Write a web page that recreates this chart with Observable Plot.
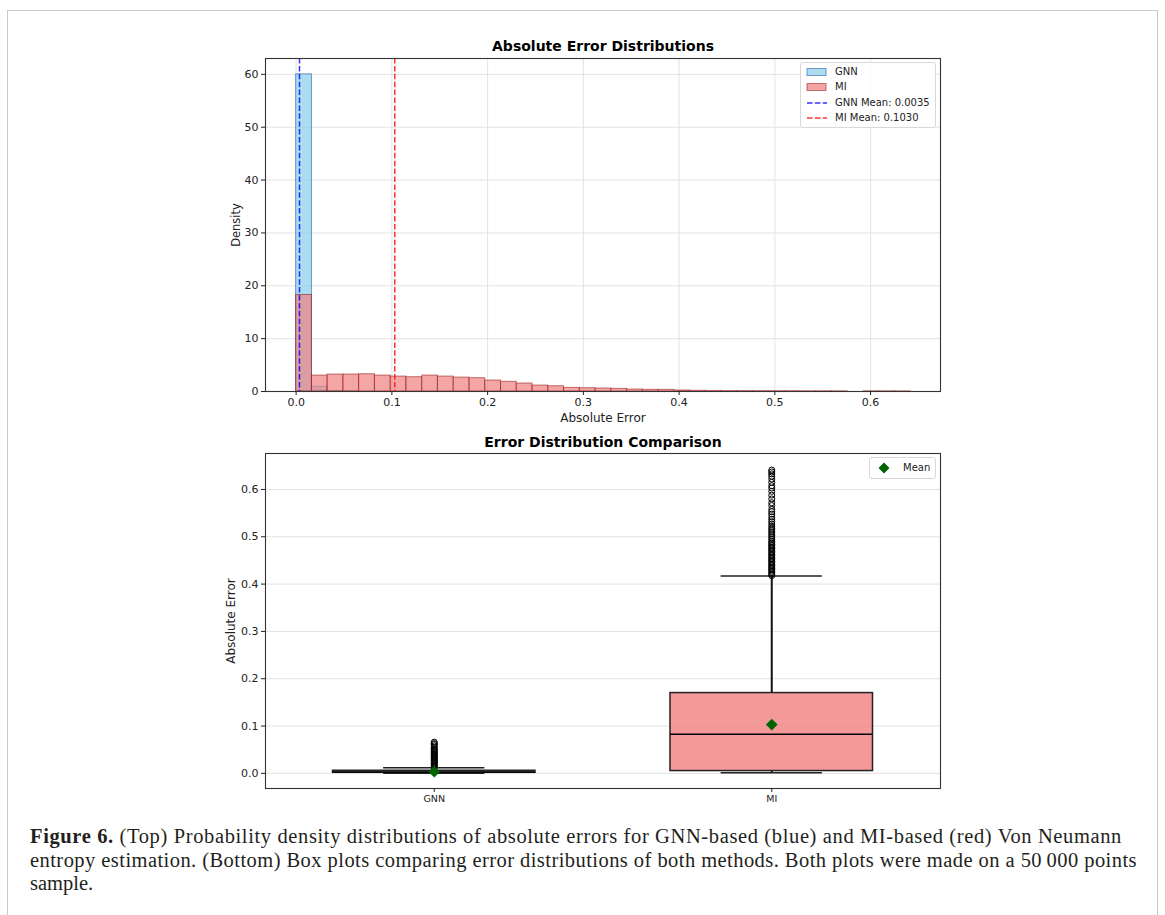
<!DOCTYPE html>
<html><head><meta charset="utf-8">
<script src="https://cdn.jsdelivr.net/npm/d3@7"></script>
<script src="https://cdn.jsdelivr.net/npm/@observablehq/plot@0.6"></script>
<style>
html,body{margin:0;padding:0;background:#fff;width:1165px;height:915px;overflow:hidden;position:relative;}
#border{position:absolute;left:7px;top:10px;width:1149px;height:1000px;border:1.5px solid #cacaca;border-bottom:none;}
#topplot,#bottomplot{position:absolute;left:0;}
#topplot{top:0;}
#bottomplot{top:430px;}
.legend{position:absolute;background:rgba(255,255,255,0.85);border:1px solid #d8d8d8;border-radius:3px;font-family:"DejaVu Sans";font-size:10px;color:#222;box-sizing:border-box;}
.legend .row{position:absolute;left:0;height:14px;line-height:14px;white-space:nowrap;}
.legend svg{position:absolute;}
.legend .lab{position:absolute;}
#caption{position:absolute;left:30px;top:825px;font-family:"Liberation Serif",serif;font-size:20.5px;line-height:23.5px;color:#231f20;white-space:nowrap;}
#caption .line{display:block;}
#caption .line span.t{display:inline-block;}
</style></head>
<body>
<div id="border"></div>
<div id="topplot"></div>
<div id="bottomplot"></div>
<div id="legend1" class="legend" style="left:800px;top:62px;width:136px;height:66px;"></div>
<div id="legend2" class="legend" style="left:869px;top:457px;width:67px;height:22px;"></div>
<div id="caption">
<div class="line"><span class="t" data-target="1092"><b>Figure 6.</b> (Top) Probability density distributions of absolute errors for GNN-based (blue) and MI-based (red) Von Neumann</span></div>
<div class="line"><span class="t" data-target="1107">entropy estimation. (Bottom) Box plots comparing error distributions of both methods. Both plots were made on a 50&#8201;000 points</span></div>
<div class="line"><span class="t">sample.</span></div>
</div>
<script>
// ---- Histogram data (shared bin edges, density) ----
const binEdges = [0, 0.0165, 0.0329, 0.0494, 0.0658, 0.0823, 0.0988, 0.1152, 0.1317, 0.1481,
  0.1646, 0.1811, 0.1975, 0.2140, 0.2304, 0.2469, 0.2634, 0.2798, 0.2963, 0.3127,
  0.3292, 0.3457, 0.3621, 0.3786, 0.3950, 0.4115, 0.4280, 0.4444, 0.4609, 0.4773,
  0.4938, 0.5103, 0.5267, 0.5432, 0.5596, 0.5761, 0.5926, 0.6090, 0.6255, 0.6419];
const gnnDensity = [60.0, 0.9, 0.1, 0.02];
const miDensity = [18.26, 3.02, 3.21, 3.21, 3.27, 3.02, 2.83, 2.71, 3.02, 2.83,
  2.64, 2.52, 2.08, 1.83, 1.51, 1.13, 1.0, 0.69, 0.63, 0.57,
  0.50, 0.38, 0.31, 0.31, 0.19, 0.13, 0.11, 0.09, 0.08, 0.07,
  0.06, 0.06, 0.05, 0.05, 0.04, 0, 0.04, 0.04, 0.03];
const gnnMean = 0.0035;
const miMean = 0.1030;
const histXTicks = [0, 0.1, 0.2, 0.3, 0.4, 0.5, 0.6];
const histYTicks = [0, 10, 20, 30, 40, 50, 60];

// ---- Box plot data ----
const methods = ["GNN", "MI"];
const boxQ1 = [0.0012, 0.0049];
const boxMedian = [0.0028, 0.0824];
const boxQ3 = [0.0055, 0.1697];
const whiskerLow = [0.0, 0.0015];
const whiskerHigh = [0.0118, 0.417];
const boxMean = [0.0035, 0.1030];
const boxFill = ["skyblue", "lightcoral"];
const gnnOutliers = [0.012, 0.014, 0.016, 0.018, 0.020, 0.022, 0.024, 0.026, 0.028, 0.030,
  0.032, 0.034, 0.036, 0.038, 0.040, 0.042, 0.044, 0.046, 0.048, 0.050, 0.052, 0.055,
  0.058, 0.061, 0.063, 0.066];
const miOutliers = [0.418, 0.421, 0.424, 0.427, 0.430, 0.433, 0.436, 0.439, 0.442, 0.445,
  0.448, 0.451, 0.454, 0.457, 0.460, 0.463, 0.466, 0.469, 0.472, 0.475, 0.478, 0.481,
  0.484, 0.487, 0.490, 0.494, 0.498, 0.502, 0.506, 0.510, 0.514, 0.518, 0.522, 0.527,
  0.532, 0.537, 0.542, 0.548, 0.553, 0.558, 0.566, 0.572, 0.580, 0.588, 0.596, 0.603,
  0.608, 0.615, 0.622, 0.628, 0.633, 0.637, 0.641];
const boxYTicks = [0, 0.1, 0.2, 0.3, 0.4, 0.5, 0.6];

// ---- Build tables ----
const gnnBars = gnnDensity.map((d, i) => ({x1: binEdges[i], x2: binEdges[i + 1], y: d}));
const miBars = miDensity.map((d, i) => ({x1: binEdges[i], x2: binEdges[i + 1], y: d})).filter(d => d.y > 0);
const boxes = methods.map((m, i) => ({
  name: m, pos: i + 1, q1: boxQ1[i], med: boxMedian[i], q3: boxQ3[i],
  lo: whiskerLow[i], hi: whiskerHigh[i], mean: boxMean[i], fill: boxFill[i]
}));
const outliers = [
  ...gnnOutliers.map(v => ({pos: 1, v})),
  ...miOutliers.map(v => ({pos: 2, v}))
];

const baseStyle = {fontFamily: "DejaVu Sans", fontSize: "11px", color: "#222", background: "transparent", overflow: "visible"};
const gridColor = "#e3e3e3";

const topPlot = Plot.plot({
  width: 1165, height: 430,
  marginLeft: 265, marginRight: 225, marginTop: 58, marginBottom: 39,
  style: baseStyle,
  x: {domain: [-0.032, 0.673]},
  y: {domain: [0, 63]},
  marks: [
    Plot.gridX({ticks: histXTicks, stroke: gridColor, strokeOpacity: 1}),
    Plot.gridY({ticks: histYTicks, stroke: gridColor, strokeOpacity: 1}),
    Plot.rectY(gnnBars, {x1: "x1", x2: "x2", y: "y", fill: "skyblue", fillOpacity: 0.7, stroke: "#3f6fb0", strokeOpacity: 0.7, strokeWidth: 1}),
    Plot.rectY(miBars, {x1: "x1", x2: "x2", y: "y", fill: "lightcoral", fillOpacity: 0.7, stroke: "darkred", strokeOpacity: 0.5, strokeWidth: 1}),
    Plot.ruleX([gnnMean], {stroke: "blue", strokeOpacity: 0.8, strokeWidth: 1.5, strokeDasharray: "5.5,2.4"}),
    Plot.ruleX([miMean], {stroke: "red", strokeOpacity: 0.8, strokeWidth: 1.5, strokeDasharray: "5.5,2.4"}),
    Plot.frame({stroke: "#333", strokeWidth: 1.1}),
    Plot.axisX({ticks: histXTicks, tickFormat: ".1f", tickSize: 4, tickPadding: 3, label: null}),
    Plot.axisY({ticks: histYTicks, tickFormat: "d", tickSize: 4, tickPadding: 3, label: null}),
    Plot.text(["Absolute Error Distributions"], {frameAnchor: "top", dy: -12, lineAnchor: "middle", textAnchor: "middle", fontWeight: "bold", fontSize: 14, fill: "#000"}),
    Plot.text(["Density"], {frameAnchor: "left", dx: -29, rotate: -90, lineAnchor: "middle", textAnchor: "middle", fontSize: 11.5, fill: "#222"}),
    Plot.text(["Absolute Error"], {frameAnchor: "bottom", dy: 27, lineAnchor: "middle", textAnchor: "middle", fontSize: 12, fill: "#222"})
  ]
});
document.getElementById("topplot").appendChild(topPlot);

const bottomPlot = Plot.plot({
  width: 1165, height: 400,
  marginLeft: 265, marginRight: 225, marginTop: 23, marginBottom: 42,
  style: baseStyle,
  x: {domain: [0.5, 2.5]},
  y: {domain: [-0.032, 0.676]},
  color: {type: "identity"},
  marks: [
    Plot.gridY({ticks: boxYTicks, stroke: gridColor, strokeOpacity: 1}),
    Plot.ruleX(boxes, {x: "pos", y1: "q3", y2: "hi", stroke: "#111", strokeWidth: 2}),
    Plot.ruleX(boxes, {x: "pos", y1: "lo", y2: "q1", stroke: "#111", strokeWidth: 2}),
    Plot.ruleY(boxes, {y: "hi", x1: d => d.pos - 0.15, x2: d => d.pos + 0.15, stroke: "#222", strokeWidth: 1.5}),
    Plot.ruleY(boxes, {y: "lo", x1: d => d.pos - 0.15, x2: d => d.pos + 0.15, stroke: "#222", strokeWidth: 1.5}),
    Plot.rect(boxes, {x1: d => d.pos - 0.3, x2: d => d.pos + 0.3, y1: "q1", y2: "q3", fill: "fill", fillOpacity: 0.8, stroke: "#222", strokeWidth: 1.5}),
    Plot.ruleY(boxes, {y: "med", x1: d => d.pos - 0.3, x2: d => d.pos + 0.3, stroke: "#000", strokeWidth: 1.5}),
    Plot.dot(outliers, {x: "pos", y: "v", r: 3, stroke: "#000", fill: "none", strokeWidth: 1}),
    Plot.dot(boxes, {x: "pos", y: "mean", symbol: "diamond2", r: 5, fill: "darkgreen", stroke: "darkgreen", strokeWidth: 0.5}),
    Plot.frame({stroke: "#333", strokeWidth: 1.1}),
    Plot.axisX({ticks: [1, 2], tickFormat: d => methods[d - 1], tickSize: 4, tickPadding: 3, label: null, fontSize: 9.5}),
    Plot.axisY({ticks: boxYTicks, tickFormat: ".1f", tickSize: 4, tickPadding: 3, label: null}),
    Plot.text(["Error Distribution Comparison"], {frameAnchor: "top", dy: -11, lineAnchor: "middle", textAnchor: "middle", fontWeight: "bold", fontSize: 14, fill: "#000"}),
    Plot.text(["Absolute Error"], {frameAnchor: "left", dx: -34, rotate: -90, lineAnchor: "middle", textAnchor: "middle", fontSize: 12, fill: "#222"})
  ]
});
document.getElementById("bottomplot").appendChild(bottomPlot);

// ---- Legends (HTML overlay) ----
function row(parent, top, swatchSvg, label, swatchLeft, labelLeft) {
  const r = document.createElement("div");
  r.className = "row";
  r.style.top = top + "px";
  r.style.width = "100%";
  r.innerHTML = `<svg width="22" height="14" style="left:${swatchLeft}px;top:0">${swatchSvg}</svg><span class="lab" style="left:${labelLeft}px">${label}</span>`;
  parent.appendChild(r);
}
const L1 = document.getElementById("legend1");
const legendItems = [
  {label: "GNN", svg: `<rect x="1" y="3.5" width="19" height="7" fill="skyblue" fill-opacity="0.7" stroke="#3f6fb0" stroke-opacity="0.7"/>`},
  {label: "MI", svg: `<rect x="1" y="3.5" width="19" height="7" fill="lightcoral" fill-opacity="0.7" stroke="darkred" stroke-opacity="0.5"/>`},
  {label: "GNN Mean: " + gnnMean.toFixed(4), svg: `<line x1="1" x2="21" y1="7" y2="7" stroke="blue" stroke-opacity="0.8" stroke-width="1.5" stroke-dasharray="5.5,2.4"/>`},
  {label: "MI Mean: " + miMean.toFixed(4), svg: `<line x1="1" x2="21" y1="7" y2="7" stroke="red" stroke-opacity="0.8" stroke-width="1.5" stroke-dasharray="5.5,2.4"/>`}
];
legendItems.forEach((d, i) => row(L1, 2 + i * 15.3, d.svg, d.label, 5, 34));
const L2 = document.getElementById("legend2");
row(L2, 3, `<path d="M11 1.5 L16.5 7 L11 12.5 L5.5 7 Z" fill="darkgreen"/>`, "Mean", 3, 33);

// ---- Caption line fitting (letter spacing) ----
document.querySelectorAll("#caption span.t[data-target]").forEach(s => {
  const target = +s.dataset.target;
  const w = s.getBoundingClientRect().width;
  const n = s.textContent.length;
  if (w < target) s.style.letterSpacing = ((target - w) / n) + "px";
});
</script>
</body></html>
